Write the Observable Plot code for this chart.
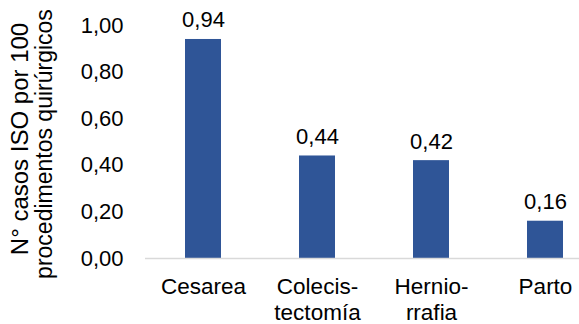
<!DOCTYPE html>
<html><head><meta charset="utf-8">
<script src="https://cdn.jsdelivr.net/npm/d3@7"></script>
<script src="https://cdn.jsdelivr.net/npm/@observablehq/plot@0.6"></script>
<style>body{margin:0;background:#fff} #chart{width:579px;height:324px;overflow:hidden}</style>
</head><body><div id="chart"></div>
<script>
const categories = ["Cesarea", "Colecistectomía", "Herniorrafia", "Parto"];
const categoryLabels = ["Cesarea", "Colecis-\ntectomía", "Hernio-\nrrafia", "Parto"];
const values = [0.94, 0.44, 0.42, 0.16];
const yTicks = [0, 0.2, 0.4, 0.6, 0.8, 1.0];
const yTitleLines = ["N° casos ISO por 100", "procedimentos quirúrgicos"];

const data = categories.map((c, i) => ({category: c, label: categoryLabels[i], value: values[i]}));
const fmt = d => d.toFixed(2).replace(".", ",");
const font = "'Liberation Sans', Arial, sans-serif";

const chart = Plot.plot({
  width: 579, height: 324,
  marginLeft: 145, marginRight: 0, marginTop: 25, marginBottom: 66,
  style: {fontFamily: font, color: "#000", background: "#fff", overflow: "hidden"},
  x: {domain: categories, range: [145, 603], paddingInner: 0.686, paddingOuter: 0.343, axis: null},
  y: {domain: [0, 1], axis: null},
  marks: [
    Plot.barY(data, {x: "category", y: "value", fill: "#2f5597"}),
    Plot.ruleY([0], {stroke: "#d9d9d9", strokeWidth: 1.3}),
    Plot.text(data, {x: "category", y: "value", text: d => fmt(d.value), lineAnchor: "bottom", dy: -12, fontSize: 22, fill: "#000"}),
    Plot.text(data, {x: "category", text: "label", frameAnchor: "bottom", textAnchor: "middle", lineAnchor: "top", dy: 17, fontSize: 22.5, lineHeight: 1.16, fill: "#000"}),
    Plot.text(yTicks, {y: d => d, text: fmt, frameAnchor: "left", textAnchor: "end", dx: -22, fontSize: 22, fill: "#000"}),
    Plot.text([yTitleLines[0]], {frameAnchor: "left", textAnchor: "middle", rotate: -90, lineAnchor: "top", dx: -135, dy: -3, fontSize: 24, fill: "#000"}),
    Plot.text([yTitleLines[1]], {frameAnchor: "left", textAnchor: "middle", rotate: -90, lineAnchor: "top", dx: -109.5, dy: 2, fontSize: 23, fill: "#000"})
  ]
});
document.getElementById("chart").appendChild(chart);
</script>
</body></html>
